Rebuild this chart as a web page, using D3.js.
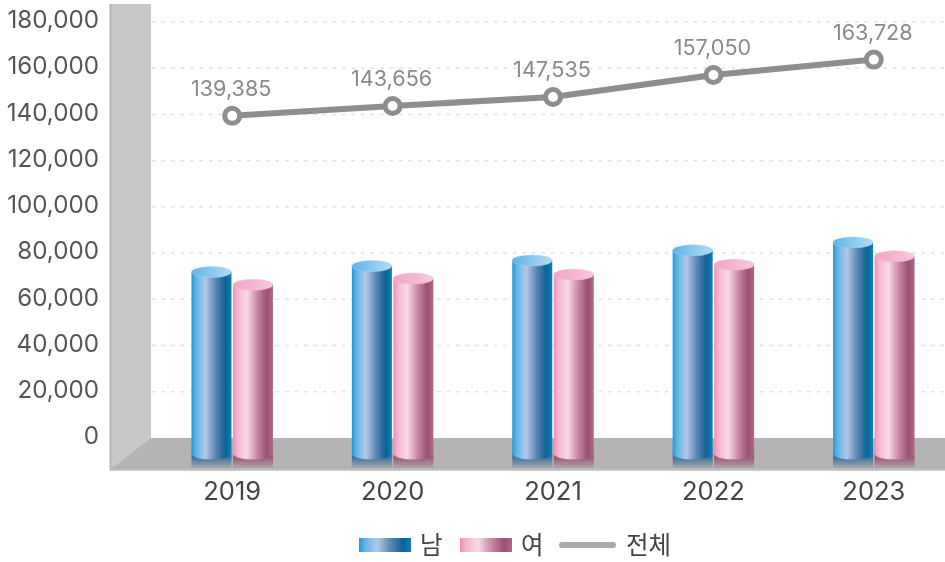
<!DOCTYPE html>
<html>
<head>
<meta charset="utf-8">
<script src="https://cdn.jsdelivr.net/npm/d3@7/dist/d3.min.js"></script>
<style>
html, body { margin: 0; padding: 0; background: #fff; overflow: hidden; }
text { font-family: Inter, "Noto Sans CJK KR", sans-serif; }
</style>
</head>
<body>
<div id="chart"></div>
<script>
// chart values
const years = ["2019", "2020", "2021", "2022", "2023"];
const male = [71800, 74400, 76800, 81200, 84600];
const female = [66300, 69000, 70735, 75000, 78600];
const total = [139385, 143656, 147535, 157050, 163728];
const yTicks = [0, 20000, 40000, 60000, 80000, 100000, 120000, 140000, 160000, 180000];
const legendNames = ["남", "여", "전체"];

const width = 945, height = 562;
const svg = d3.select("#chart").append("svg")
    .attr("width", width)
    .attr("height", height)
    .style("display", "block");

const defs = svg.append("defs");

function barGradient(id, stops) {
    let g = defs.append("linearGradient").attr("id", id);
    stops.forEach(s => g.append("stop").attr("offset", s[0]).attr("stop-color", s[1]));
}
barGradient("maleBar", [[0, "#1b9ad8"], [0.1, "#5db1e3"], [0.35, "#b3c8e6"], [0.6, "#5f87b3"], [0.85, "#0a6396"], [1, "#0780b8"]]);
barGradient("femaleBar", [[0, "#f08fb8"], [0.12, "#f6b6d0"], [0.35, "#f6dbe6"], [0.6, "#c98aa6"], [0.85, "#995072"], [1, "#ad6a8a"]]);
barGradient("maleTop", [[0, "#5fb4e6"], [1, "#b4dcf4"]]);
barGradient("femaleTop", [[0, "#f3a4c6"], [1, "#f8c8dc"]]);

let soft = defs.append("filter").attr("id", "soft");
soft.append("feGaussianBlur").attr("stdDeviation", 0.45);

// floor reflection under each bar fades into the floor colour
function reflection(id, color) {
    let g = defs.append("linearGradient").attr("id", id).attr("x2", 0).attr("y2", 1);
    g.append("stop").attr("offset", 0).attr("stop-color", color).attr("stop-opacity", 0.95);
    g.append("stop").attr("offset", 1).attr("stop-color", color).attr("stop-opacity", 0.12);
}
reflection("maleShade", "#1f5c8f");
reflection("femaleShade", "#8c3f63");

const root = svg.append("g").attr("filter", "url(#soft)");

// scales
const y = d3.scaleLinear().domain([0, 180000]).range([438, 22]);
const x = d3.scaleBand().domain(years).range([152, 954]);
const barW = 40, barGap = 1.5, frontBase = 454, cap = 5.5;

// back wall and floor
root.append("rect").attr("x", 110).attr("y", 4).attr("width", 41).attr("height", 466).attr("fill", "#c8c8c8");
root.append("rect").attr("x", 109.5).attr("y", 4).attr("width", 2).attr("height", 466).attr("fill", "#b4b4b4");
root.append("polygon").attr("points", "151,438 945,438 945,470 110,470").attr("fill", "#b4b4b4");
root.append("rect").attr("x", 109.5).attr("y", 469.5).attr("width", 836).attr("height", 1.5).attr("fill", "#c9c9c9");

// gridlines
root.append("g").selectAll("line")
    .data(yTicks.slice(1))
    .join("line")
    .attr("x1", 152).attr("x2", width)
    .attr("y1", d => y(d)).attr("y2", d => y(d))
    .attr("stroke", "#e2e2e2")
    .attr("stroke-width", 1.5)
    .attr("stroke-dasharray", "3.5 6");

// y axis labels
let yAxis = d3.axisLeft(y).tickValues(yTicks).tickFormat(d3.format(",")).tickSize(0);
root.append("g")
    .attr("transform", "translate(102,-2)")
    .call(yAxis)
    .call(g => g.select(".domain").remove())
    .selectAll("text")
    .attr("fill", "#555")
    .attr("font-size", 24.2)
    .attr("font-family", "Inter");

// x axis labels
let xAxis = d3.axisBottom(x).tickSize(0);
root.append("g")
    .attr("transform", "translate(0,479)")
    .call(xAxis)
    .call(g => g.select(".domain").remove())
    .selectAll("text")
    .attr("fill", "#444")
    .attr("font-size", 25.5);

function drawBars(values, offset, fillId, topId, topEdge, shadeId) {
    let g = root.append("g");
    years.forEach((yr, i) => {
        let left = x(yr) + x.bandwidth() / 2 + offset;
        let top = y(values[i]);
        // reflection on the floor
        g.append("rect")
            .attr("x", left).attr("y", frontBase).attr("width", barW).attr("height", 14)
            .attr("fill", `url(#${shadeId})`);
        // body
        g.append("path")
            .attr("d", `M${left},${top}V${frontBase}A${barW / 2},${cap} 0 0 0 ${left + barW},${frontBase}V${top}Z`)
            .attr("fill", `url(#${fillId})`);
        // cap
        g.append("ellipse")
            .attr("cx", left + barW / 2).attr("cy", top)
            .attr("rx", barW / 2).attr("ry", cap)
            .attr("fill", `url(#${topId})`)
            .attr("stroke", topEdge).attr("stroke-width", 0.5);
    });
}
drawBars(male, -barW - barGap / 2, "maleBar", "maleTop", "#9dd0f0", "maleShade");
drawBars(female, barGap / 2, "femaleBar", "femaleTop", "#f6bcd4", "femaleShade");

// total line
const line = d3.line()
    .x((d, i) => x(years[i]) + x.bandwidth() / 2)
    .y(d => y(d));
root.append("path")
    .datum(total)
    .attr("d", line)
    .attr("fill", "none")
    .attr("stroke", "#8e8e8e")
    .attr("stroke-width", 6);
root.append("g").selectAll("circle")
    .data(total)
    .join("circle")
    .attr("cx", (d, i) => x(years[i]) + x.bandwidth() / 2)
    .attr("cy", d => y(d))
    .attr("r", 7.5)
    .attr("fill", "#fff")
    .attr("stroke", "#8e8e8e")
    .attr("stroke-width", 5);
root.append("g").selectAll("text")
    .data(total)
    .join("text")
    .attr("x", (d, i) => x(years[i]) + x.bandwidth() / 2 - 1)
    .attr("y", d => y(d) - 20)
    .attr("text-anchor", "middle")
    .attr("fill", "#8a8a8a")
    .attr("font-size", 21.6)
    .text(d3.format(","));

// legend
const legend = root.append("g");
legend.append("rect").attr("x", 359).attr("y", 538).attr("width", 52).attr("height", 14).attr("fill", "url(#maleBar)");
legend.append("text").attr("x", 420).attr("y", 554).attr("fill", "#444").attr("font-size", 24.5).text(legendNames[0]);
legend.append("rect").attr("x", 460).attr("y", 538).attr("width", 52).attr("height", 14).attr("fill", "url(#femaleBar)");
legend.append("text").attr("x", 521).attr("y", 554).attr("fill", "#444").attr("font-size", 24.5).text(legendNames[1]);
legend.append("line").attr("x1", 562).attr("x2", 613).attr("y1", 545).attr("y2", 545)
    .attr("stroke", "#aaa").attr("stroke-width", 6).attr("stroke-linecap", "round");
legend.append("text").attr("x", 626).attr("y", 554).attr("fill", "#444").attr("font-size", 24.5).text(legendNames[2]);
</script>
</body>
</html>
